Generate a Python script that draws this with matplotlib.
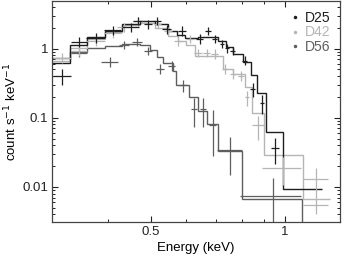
import matplotlib
matplotlib.use("Agg")
import matplotlib.pyplot as plt
from matplotlib.ticker import FixedLocator, NullFormatter, FixedFormatter
from matplotlib.lines import Line2D

plt.rcParams['font.family'] = ['Liberation Sans', 'DejaVu Sans']

labels = ["D25", "D42", "D56"]

# ---- D25 (dark) ----
d25_edges = [0.300, 0.329, 0.359, 0.394, 0.430, 0.472, 0.510, 0.546, 0.572, 0.596,
             0.638, 0.707, 0.737, 0.764, 0.804, 0.839, 0.865, 0.907, 0.990, 1.211]
d25_model = [0.63, 1.14, 1.49, 1.82, 2.29, 2.53, 2.29, 1.82, 1.59, 1.44,
             1.49, 1.30, 1.07, 0.85, 0.65, 0.42, 0.225, 0.062, 0.0093]
d25_E = [0.316, 0.345, 0.376, 0.411, 0.451, 0.467, 0.492, 0.516, 0.543, 0.587,
         0.644, 0.671, 0.696, 0.722, 0.741, 0.764, 0.813, 0.847, 0.888, 0.950]
d25_C = [0.40, 1.26, 1.44, 1.88, 2.07, 2.53, 2.29, 2.53, 1.94, 1.82,
         1.39, 1.82, 1.39, 1.18, 1.03, 0.936, 0.672, 0.257, 0.162, 0.0363]
d25_err = [0.10, 0.2, 0.22, 0.28, 0.3, 0.35, 0.35, 0.35, 0.3, 0.28,
           0.22, 0.25, 0.2, 0.17, 0.15, 0.13, 0.1, 0.06, 0.05, 0.015]
d25_xerr = [0.015, 0.015, 0.018, 0.018, 0.02, 0.01, 0.01, 0.01, 0.012, 0.012,
            0.012, 0.01, 0.01, 0.008, 0.008, 0.01, 0.01, 0.01, 0.01, 0.02]

# ---- D42 (light) ----
d42_edges = [0.300, 0.329, 0.359, 0.394, 0.430, 0.472, 0.510, 0.546, 0.575, 0.600,
             0.628, 0.726, 0.764, 0.813, 0.843, 0.897, 1.098, 1.262]
d42_model = [0.67, 1.03, 1.39, 1.76, 2.21, 2.37, 2.00, 1.54, 1.30, 1.14,
             0.79, 0.515, 0.437, 0.275, 0.116, 0.0289, 0.0066]
d42_E = [0.316, 0.345, 0.376, 0.411, 0.435, 0.467, 0.518, 0.546, 0.575, 0.612,
         0.638, 0.668, 0.696, 0.734, 0.764, 0.796, 0.822, 0.870, 0.990, 1.174, 1.174]
d42_C = [0.742, 0.936, 1.30, 1.70, 2.07, 2.5, 2.29, 1.82, 1.30, 1.39,
         0.876, 0.876, 0.847, 0.515, 0.437, 0.409, 0.197, 0.0778, 0.0188, 0.0130, 0.0055]
d42_err = [0.12, 0.15, 0.2, 0.25, 0.3, 0.35, 0.3, 0.25, 0.2, 0.2,
           0.13, 0.13, 0.13, 0.09, 0.07, 0.07, 0.05, 0.03, 0.008, 0.006, 0.0015]
d42_xerr = [0.015, 0.015, 0.018, 0.018, 0.015, 0.01, 0.01, 0.012, 0.01, 0.012,
            0.012, 0.012, 0.012, 0.012, 0.012, 0.012, 0.01, 0.027, 0.1, 0.075, 0.075]

# ---- D56 (grey, low) ----
d56_edges = [0.300, 0.329, 0.359, 0.394, 0.430, 0.472, 0.497, 0.516, 0.532, 0.560,
             0.569, 0.609, 0.638, 0.668, 0.707, 0.800, 1.092, 1.33]
d56_model = [0.74, 0.905, 1.03, 1.10, 1.18, 1.14, 0.97, 0.77, 0.63, 0.48,
             0.30, 0.197, 0.124, 0.0805, 0.033, 0.0066, 0.0005]
d56_E = [0.345, 0.404, 0.435, 0.465, 0.492, 0.524, 0.557, 0.590, 0.625, 0.654,
         0.689, 0.753, 0.940]
d56_C = [0.876, 0.65, 1.14, 1.26, 0.936, 0.515, 0.569, 0.294, 0.133, 0.133,
         0.0778, 0.0339, 0.0074]
d56_err = [0.13, 0.1, 0.15, 0.15, 0.12, 0.08, 0.09, 0.06, 0.06, 0.06,
           0.05, 0.019, 0.006]
d56_xerr = [0.015, 0.017, 0.012, 0.012, 0.01, 0.01, 0.01, 0.012, 0.01, 0.01,
            0.012, 0.047, 0.145]

x_major = [0.5, 1]
x_major_labels = ["0.5", "1"]
x_minor = [0.3, 0.4, 0.6, 0.7, 0.8, 0.9]

c25, c42, c56 = '#1e1e1e', '#b5b5b5', '#5e5e5e'

fig = plt.figure(figsize=(3.5, 2.56), dpi=100)
ax = fig.add_axes([0.149, 0.133, 0.822, 0.863])

series = [
    (d56_edges, d56_model, d56_E, d56_C, d56_err, d56_xerr, c56),
    (d42_edges, d42_model, d42_E, d42_C, d42_err, d42_xerr, c42),
    (d25_edges, d25_model, d25_E, d25_C, d25_err, d25_xerr, c25),
]
for edges, model, E, C, err, xerr, col in series:
    ax.stairs(model, edges, color=col, lw=1.0, baseline=None)
    ax.errorbar(E, C, yerr=err, xerr=xerr, fmt='none', ecolor=col, elinewidth=0.9, capsize=0)

ax.set_xscale('log')
ax.set_yscale('log')
ax.set_xlim(0.3, 1.33)
ax.set_ylim(0.0031, 4.9)

ax.xaxis.set_major_locator(FixedLocator(x_major))
ax.xaxis.set_major_formatter(FixedFormatter(x_major_labels))
ax.xaxis.set_minor_locator(FixedLocator(x_minor))
ax.xaxis.set_minor_formatter(NullFormatter())
ax.yaxis.set_major_formatter(FixedFormatter(["0.01", "0.1", "1"]))
ax.yaxis.set_major_locator(FixedLocator([0.01, 0.1, 1]))

ax.tick_params(which='both', direction='in', top=True, right=True, labelsize=9.5, colors='#222222', pad=3)
ax.tick_params(which='major', length=4, width=0.8)
ax.tick_params(which='minor', length=2.5, width=0.7)
for s in ax.spines.values():
    s.set_color('#444444')
    s.set_linewidth(0.9)

ax.set_xlabel('Energy (keV)', fontsize=9.5, labelpad=3)
ax.set_ylabel('count s$^{-1}$ keV$^{-1}$', fontsize=9.5, labelpad=2)

handles = [Line2D([], [], ls='none', marker='.', ms=3, color=c) for c in (c25, c42, c56)]
leg = ax.legend(handles, labels, loc='upper right', bbox_to_anchor=(1.0, 1.0), frameon=False,
                fontsize=10, handlelength=0.6, handletextpad=0.4, labelspacing=0.05,
                borderaxespad=0.3, labelcolor=[c25, c42, c56])

fig.savefig('out.png', dpi=100)
